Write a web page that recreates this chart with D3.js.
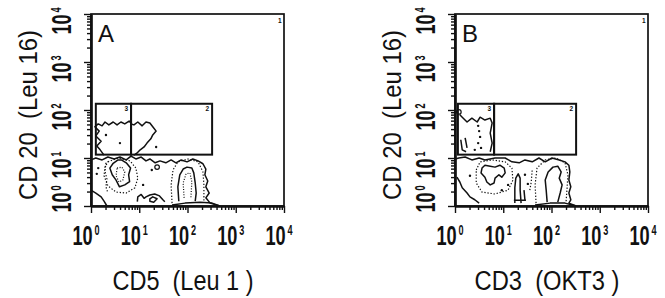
<!DOCTYPE html>
<html>
<head>
<meta charset="utf-8">
<script src="https://cdn.jsdelivr.net/npm/d3@7"></script>
<style>
  html, body { margin: 0; padding: 0; background: #fff; }
  svg { display: block; font-family: "Liberation Sans", Arial, sans-serif; }
</style>
</head>
<body>
<svg id="chart" width="665" height="298"></svg>
<script>
// All values are log10 of fluorescence (0 = 10^0 ... 4 = 10^4)
const decades = [0, 1, 2, 3, 4];
const minorSteps = [2, 3, 4, 5, 6, 7, 8, 9];
const panelNames = ["A", "B"];
const xTitles = ["CD5  (Leu 1 )", "CD3  (OKT3 )"];
const yTitle = "CD 20  (Leu 16)";
const regionAll = "1";

// gates: [label, x from, x to, y from, y to]
const gatesA = [["3", 0.10, 0.83, 1.07, 2.13], ["2", 0.83, 2.51, 1.07, 2.13]];
const gatesB = [["3", 0.06, 0.81, 1.07, 2.13], ["2", 0.81, 2.51, 1.07, 2.13]];

// contour lines, level 1 = outermost
const contoursA = [
  { level: 1, closed: false, pts: [[0.27,1.06],[0.19,1.17],[0.12,1.25],[0.21,1.35],[0.10,1.46],[0.17,1.56],[0.08,1.65],[0.15,1.71],[0.23,1.67],[0.29,1.75],[0.37,1.69],[0.46,1.75],[0.54,1.69],[0.62,1.75],[0.70,1.71],[0.79,1.77],[0.83,1.73]] },
  { level: 1, closed: false, pts: [[0.83,1.71],[0.89,1.69],[0.97,1.75],[1.06,1.67],[1.14,1.75],[1.22,1.73],[1.28,1.65],[1.35,1.56],[1.28,1.48],[1.24,1.40],[1.16,1.31],[1.10,1.23],[1.02,1.17],[0.95,1.10],[0.89,1.06]] },
  { level: 1, closed: false, pts: [[0,0.96],[0.10,1.00],[0.23,0.96],[0.35,1.02],[0.48,0.98],[0.60,1.02],[0.73,0.96],[0.83,1.04],[0.93,0.98],[1.04,1.02],[1.14,0.94],[1.22,0.98],[1.33,0.90],[1.43,0.94],[1.55,0.90],[1.66,0.96],[1.76,0.90],[1.87,0.96],[1.99,0.92],[2.11,0.98],[2.22,0.94],[2.32,0.88],[2.38,0.77],[2.36,0.65],[2.42,0.52],[2.38,0.40],[2.45,0.27],[2.38,0.17],[2.47,0.06],[2.67,0]] },
  { level: 1, closed: false, pts: [[0,0.33],[0.10,0.27],[0.21,0.19],[0.27,0.10],[0.33,0]] },
  { level: 1, closed: false, pts: [[0.96,0.09],[0.97,0.19],[1.04,0.24],[1.10,0.16],[1.14,0.19],[1.22,0.23],[1.32,0.25],[1.42,0.21],[1.49,0.13],[1.53,0.09]] },
  { level: 1, closed: true,  pts: [[1.22,0.15],[1.28,0.19],[1.37,0.15],[1.30,0.08],[1.22,0.10]] },
  { level: 1, closed: false, pts: [[1.68,0.02],[1.95,0.06],[2.26,0.08],[2.51,0.06],[2.67,0]] },
  { level: 2, closed: true,  pts: [[0.35,0.92],[0.56,1.00],[0.81,0.94],[0.93,0.79],[0.97,0.58],[0.91,0.38],[0.73,0.27],[0.52,0.29],[0.35,0.42],[0.27,0.63],[0.29,0.81]] },
  { level: 2, closed: false, pts: [[0.31,0.90],[0.29,0.73],[0.33,0.56],[0.31,0.40],[0.35,0.27]] },
  { level: 3, closed: true,  pts: [[0.56,0.96],[0.46,0.89],[0.39,0.79],[0.44,0.65],[0.52,0.54],[0.59,0.40],[0.70,0.44],[0.80,0.51],[0.78,0.65],[0.82,0.79],[0.73,0.90],[0.63,0.96]] },
  { level: 4, closed: true,  pts: [[0.54,0.79],[0.64,0.81],[0.70,0.71],[0.66,0.54],[0.58,0.50],[0.52,0.63]] },
  { level: 2, closed: false, pts: [[1.68,0.06],[1.66,0.44],[1.70,0.75],[1.80,0.92],[2.01,0.98],[2.22,0.92],[2.32,0.71],[2.34,0.44],[2.34,0.06]] },
  { level: 3, closed: false, pts: [[1.82,0.10],[1.80,0.40],[1.84,0.65],[1.91,0.77],[1.99,0.81],[2.09,0.79],[2.13,0.69],[2.16,0.48],[2.18,0.27],[2.16,0.10]] },
  { level: 4, closed: false, pts: [[1.93,0.17],[1.91,0.48],[1.97,0.67],[2.05,0.69],[2.09,0.50],[2.07,0.17]] }
];

const contoursB = [
  { level: 1, closed: false, pts: [[0.10,1.90],[0.15,1.85],[0.25,1.75],[0.35,1.83],[0.46,1.75],[0.52,1.85],[0.62,1.79],[0.73,1.83],[0.77,1.73],[0.73,1.52],[0.77,1.31],[0.73,1.13]] },
  { level: 1, closed: false, pts: [[0.12,1.38],[0.15,1.17],[0.23,1.13]] },
  { level: 1, closed: false, pts: [[0.21,1.42],[0.25,1.21]] },
  { level: 1, closed: false, pts: [[0,0.98],[0.08,1.00],[0.21,1.02],[0.35,0.96],[0.50,1.00],[0.62,0.96],[0.83,1.00],[1.04,1.00],[1.18,0.92],[1.33,0.90],[1.45,0.96],[1.60,0.92],[1.74,1.00],[1.87,0.92],[2.01,1.00],[2.16,0.96],[2.28,0.92],[2.36,0.85],[2.38,0.71],[2.36,0.54],[2.40,0.40],[2.36,0.27],[2.40,0.13],[2.36,0.06],[2.51,0]] },
  { level: 1, closed: false, pts: [[0.04,0.60],[0.10,0.50],[0.15,0.38],[0.25,0.27],[0.31,0.19],[0.41,0.13],[0.50,0.06]] },
  { level: 1, closed: false, pts: [[1.24,0.06],[1.24,0.38],[1.26,0.58],[1.31,0.67],[1.35,0.58],[1.35,0.33],[1.37,0.06]] },
  { level: 1, closed: false, pts: [[1.22,0.12],[1.47,0.12]] },
  { level: 1, closed: false, pts: [[1.43,0.33],[1.45,0.12]] },
  { level: 1, closed: false, pts: [[1.66,0.02],[1.97,0.06],[2.28,0.06],[2.51,0]] },
  { level: 2, closed: true,  pts: [[0.44,0.75],[0.52,0.92],[0.77,0.96],[1.04,0.92],[1.18,0.79],[1.20,0.54],[1.10,0.33],[0.83,0.25],[0.56,0.29],[0.44,0.48]] },
  { level: 3, closed: true,  pts: [[0.56,0.79],[0.62,0.85],[0.73,0.83],[0.83,0.81],[0.93,0.85],[1.02,0.79],[1.04,0.69],[0.97,0.60],[0.91,0.65],[0.83,0.58],[0.81,0.48],[0.73,0.44],[0.66,0.50],[0.62,0.60],[0.54,0.69]] },
  { level: 2, closed: false, pts: [[1.68,0.06],[1.66,0.44],[1.70,0.79],[1.87,0.96],[2.09,1.00],[2.28,0.90],[2.34,0.65],[2.32,0.33],[2.30,0.06]] },
  { level: 2, closed: false, pts: [[1.55,0.33],[1.58,0.50],[1.60,0.75]] },
  { level: 3, closed: false, pts: [[1.91,0.08],[1.89,0.33],[1.87,0.54],[1.93,0.71],[2.03,0.81],[2.13,0.83],[2.20,0.71],[2.16,0.58],[2.22,0.44],[2.18,0.27],[2.13,0.08]] }
];

// single events and small rings
const dotsA = [[0.31,1.48],[0.60,1.31],[1.35,1.23],[0.15,0.79],[0.12,0.67],[1.08,0.44],[1.26,0.75]];
const ringsA = [[1.37,0.81]];
const dotsB = [[0.48,1.67],[0.50,1.56],[0.52,1.44],[0.48,1.31],[0.54,1.21],[0.41,1.17],[0.31,0.63],[0.97,0.33],[1.10,0.44],[1.45,0.65],[1.51,0.46]];
const ringsB = [[0.08,1.96]];

// Layout
const config = {
  panelX: [91, 455],
  top: 14,
  plotW: 193,
  plotH: 192,
  ink: "#111"
};

const svg = d3.select("#chart");
const x = d3.scaleLinear().domain([0, 4]).range([0, config.plotW]);
const y = d3.scaleLinear().domain([0, 4]).range([config.plotH, 0]);
const minorVals = decades.slice(0, -1).flatMap(d => minorSteps.map(k => d + Math.log10(k)));
const levelDash = { 1: null, 2: "1.3,1.8", 3: null, 4: "1,1.6" };

const line = d3.line().x(d => x(d[0])).y(d => y(d[1]));
const loop = d3.line().x(d => x(d[0])).y(d => y(d[1])).curve(d3.curveLinearClosed);

// "10" with a raised exponent
function powerLabel(sel) {
  sel.append("tspan").attr("font-size", 28).text("10");
  sel.append("tspan").attr("font-size", 14).attr("dx", 3).attr("dy", -10).text(d => d);
}

function drawPanel(i, contours, gates, dots, rings) {
  const g = svg.append("g")
    .attr("transform", `translate(${config.panelX[i]},${config.top})`);

  // contours
  g.append("g").selectAll("path")
    .data(contours)
    .join("path")
    .attr("d", c => c.closed ? loop(c.pts) : line(c.pts))
    .attr("fill", "none")
    .attr("stroke", config.ink)
    .attr("stroke-width", c => c.level % 2 ? 1.5 : 1.2)
    .attr("stroke-dasharray", c => levelDash[c.level])
    .attr("stroke-linejoin", "round");

  g.append("g").selectAll("circle.dot")
    .data(dots)
    .join("circle")
    .attr("cx", d => x(d[0]))
    .attr("cy", d => y(d[1]))
    .attr("r", 1.2)
    .attr("fill", config.ink);

  g.append("g").selectAll("circle")
    .data(rings)
    .join("circle")
    .attr("cx", d => x(d[0]))
    .attr("cy", d => y(d[1]))
    .attr("r", 2.3)
    .attr("fill", "none")
    .attr("stroke", config.ink)
    .attr("stroke-width", 1.2);

  // gates
  g.append("g").selectAll("rect")
    .data(gates)
    .join("rect")
    .attr("x", d => x(d[1]))
    .attr("y", d => y(d[4]))
    .attr("width", d => x(d[2]) - x(d[1]))
    .attr("height", d => y(d[3]) - y(d[4]))
    .attr("fill", "none")
    .attr("stroke", config.ink)
    .attr("stroke-width", 2);

  g.append("g").selectAll("text")
    .data(gates)
    .join("text")
    .attr("x", d => x(d[2]) - 3)
    .attr("y", d => y(d[4]) + 7)
    .attr("text-anchor", "end")
    .attr("font-size", 6.5)
    .attr("font-weight", "bold")
    .attr("fill", config.ink)
    .text(d => d[0]);

  // frame
  g.append("rect")
    .attr("width", config.plotW)
    .attr("height", config.plotH)
    .attr("fill", "none")
    .attr("stroke", config.ink)
    .attr("stroke-width", 1.7);

  g.append("text")
    .attr("x", config.plotW - 6)
    .attr("y", 9)
    .attr("font-size", 6.5)
    .attr("font-weight", "bold")
    .attr("fill", config.ink)
    .text(regionAll);

  // axes
  const styleAxis = a => {
    a.select(".domain").attr("stroke", config.ink).attr("stroke-width", 2.2);
    a.selectAll(".tick line").attr("stroke", config.ink).attr("stroke-width", 1.4);
  };
  g.append("g")
    .attr("transform", `translate(0,${config.plotH})`)
    .call(d3.axisBottom(x).tickValues(minorVals).tickSize(4).tickSizeOuter(0).tickFormat(""))
    .call(styleAxis);
  g.append("g")
    .attr("transform", `translate(0,${config.plotH})`)
    .call(d3.axisBottom(x).tickValues(decades).tickSize(7).tickSizeOuter(0).tickFormat(""))
    .call(styleAxis);
  g.append("g")
    .call(d3.axisLeft(y).tickValues(minorVals).tickSize(4).tickSizeOuter(0).tickFormat(""))
    .call(styleAxis);
  g.append("g")
    .call(d3.axisLeft(y).tickValues(decades).tickSize(7).tickSizeOuter(0).tickFormat(""))
    .call(styleAxis);

  // tick labels
  g.append("g").selectAll("text")
    .data(decades)
    .join("text")
    .attr("transform", d => `translate(${x(d) - 5},${245 - config.top}) scale(0.65,1)`)
    .attr("text-anchor", "middle")
    .attr("font-weight", "bold")
    .attr("fill", config.ink)
    .call(powerLabel);

  g.append("g").selectAll("text")
    .data(decades)
    .join("text")
    .attr("transform", d => `translate(-20,${y(d) + (d === 0 ? -7 : 7)}) rotate(-90) scale(0.65,1)`)
    .attr("text-anchor", "middle")
    .attr("font-weight", "bold")
    .attr("fill", config.ink)
    .call(powerLabel);

  // titles
  g.append("text")
    .attr("transform", `translate(-54,${115 - config.top}) rotate(-90)`)
    .attr("text-anchor", "middle")
    .attr("font-size", 25)
    .attr("textLength", 170)
    .attr("lengthAdjust", "spacingAndGlyphs")
    .style("white-space", "pre")
    .attr("fill", config.ink)
    .text(yTitle);

  g.append("text")
    .attr("x", 92)
    .attr("y", 290 - config.top)
    .attr("text-anchor", "middle")
    .attr("font-size", 27)
    .attr("textLength", i === 0 ? 141 : 145)
    .attr("lengthAdjust", "spacingAndGlyphs")
    .style("white-space", "pre")
    .attr("fill", config.ink)
    .text(xTitles[i]);

  g.append("text")
    .attr("x", 7)
    .attr("y", 42 - config.top)
    .attr("font-size", 24)
    .attr("fill", config.ink)
    .text(panelNames[i]);
}

drawPanel(0, contoursA, gatesA, dotsA, ringsA);
drawPanel(1, contoursB, gatesB, dotsB, ringsB);
</script>
</body>
</html>
